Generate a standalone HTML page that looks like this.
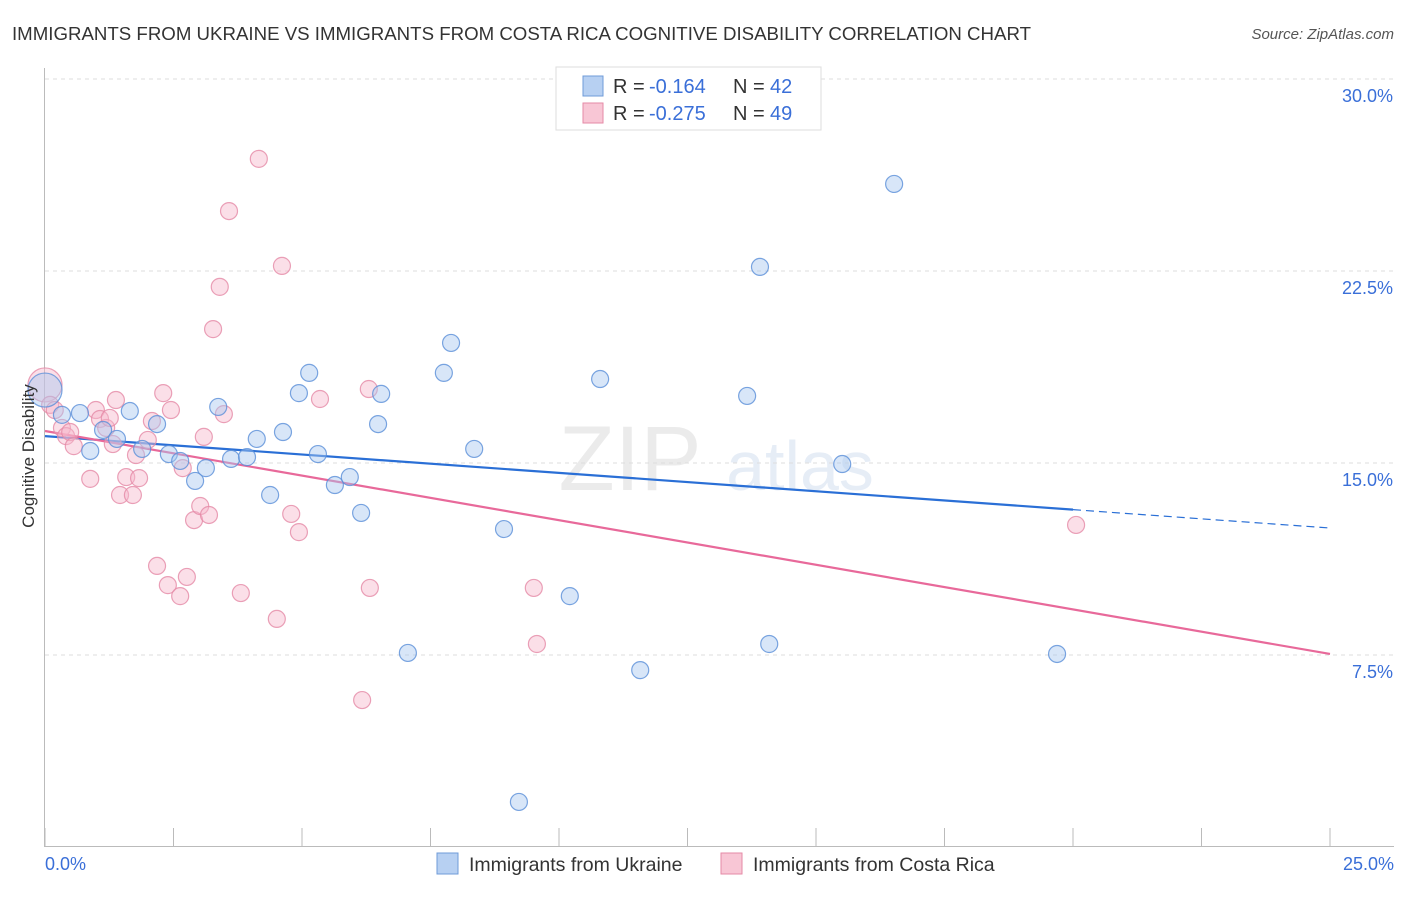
<!DOCTYPE html>
<html><head><meta charset="utf-8"><style>
body{margin:0;background:#fff;font-family:"Liberation Sans",sans-serif;}
svg text{font-family:"Liberation Sans",sans-serif;}
</style></head><body>
<svg id="chart" width="1406" height="892">
<text x="12" y="40" font-size="18.5" fill="#333" textLength="1019" lengthAdjust="spacingAndGlyphs">IMMIGRANTS FROM UKRAINE VS IMMIGRANTS FROM COSTA RICA COGNITIVE DISABILITY CORRELATION CHART</text>
<text x="1394" y="39" font-size="15" fill="#555" font-style="italic" text-anchor="end">Source: ZipAtlas.com</text>
<g opacity="0.35">
<text x="630" y="490" font-size="92" fill="#c8c8c8" font-family="Liberation Serif" text-anchor="middle">ZIP</text>
<text x="800" y="490" font-size="70" fill="#b8cce8" text-anchor="middle">atlas</text>
</g>
<g id="grid"></g><g id="axes"></g><g id="lines"></g><g id="points"></g>
<text transform="translate(34,456) rotate(-90)" font-size="17" fill="#333" text-anchor="middle">Cognitive Disability</text>
<g>
<rect x="556" y="67" width="265" height="63" fill="#fff" stroke="#ddd"/>
<rect x="583" y="76" width="20" height="20" fill="#b7d0f2" stroke="#6f9bd8"/>
<text x="613" y="93" font-size="20" fill="#333">R =</text>
<text x="649" y="93" font-size="20" fill="#3a6fd8">-0.164</text>
<text x="733" y="93" font-size="20" fill="#333">N =</text>
<text x="770" y="93" font-size="20" fill="#3a6fd8">42</text>
<rect x="583" y="103" width="20" height="20" fill="#f8c6d5" stroke="#e58aa6"/>
<text x="613" y="120" font-size="20" fill="#333">R =</text>
<text x="649" y="120" font-size="20" fill="#3a6fd8">-0.275</text>
<text x="733" y="120" font-size="20" fill="#333">N =</text>
<text x="770" y="120" font-size="20" fill="#3a6fd8">49</text>
</g>
<g>
<rect x="437" y="853" width="21" height="21" fill="#b7d0f2" stroke="#6f9bd8"/>
<text x="469" y="871" font-size="19.5" fill="#333">Immigrants from Ukraine</text>
<rect x="721" y="853" width="21" height="21" fill="#f8c6d5" stroke="#e58aa6"/>
<text x="753" y="871" font-size="19.5" fill="#333">Immigrants from Costa Rica</text>
</g>
</svg>
<script>
const ukraineX=[0,0.33,0.68,0.88,1.13,1.40,1.65,1.89,2.18,2.41,2.63,2.92,3.13,3.37,3.62,3.93,4.12,4.38,4.63,4.94,5.14,5.31,5.64,5.93,6.15,6.48,6.54,7.06,7.76,7.90,8.35,8.93,9.22,10.21,10.80,11.58,13.66,13.91,14.09,15.51,16.52,19.69];
const ukraineY=[17.85,16.88,16.95,15.47,16.29,15.94,17.03,15.55,16.52,15.35,15.08,14.30,14.80,17.19,15.16,15.23,15.94,13.75,16.21,17.73,18.52,15.35,14.14,14.45,13.05,16.52,17.70,7.58,18.52,19.69,15.55,12.42,1.76,9.80,18.28,6.91,17.62,22.66,7.93,14.96,25.90,7.54];
const costaX=[0,0.10,0.19,0.33,0.41,0.49,0.56,0.88,0.99,1.07,1.19,1.26,1.32,1.38,1.46,1.58,1.71,1.77,1.83,2.00,2.08,2.18,2.30,2.39,2.45,2.63,2.68,2.76,2.90,3.02,3.09,3.19,3.27,3.40,3.48,3.58,3.81,4.16,4.51,4.61,4.79,4.94,5.35,6.17,6.30,6.32,9.51,9.57,20.06];
const costaY=[18.05,17.27,17.07,16.37,16.05,16.21,15.66,14.38,17.07,16.72,16.37,16.76,15.74,17.46,13.75,14.45,13.75,15.31,14.41,15.90,16.64,10.98,17.73,10.23,17.07,9.80,14.80,10.55,12.77,13.32,16.02,12.97,20.23,21.88,16.91,24.84,9.92,26.88,8.91,22.70,13.01,12.30,17.50,5.74,17.89,10.12,10.12,7.93,12.58];
const yTicks=[7.5,15,22.5,30];
const yTickLabels=["7.5%","15.0%","22.5%","30.0%"];
const xTicks=[0,2.5,5,7.5,10,12.5,15,17.5,20,22.5,25];
const ukraineTrend=[16.05,12.46];
const costaTrend=[16.25,7.54];
const ukraineSolidEnd=20;

const NS="http://www.w3.org/2000/svg";
const X=v=>45+v*(1285/25);
const Y=v=>847-v*(192/7.5);
function mk(tag,attrs,parent){const e=document.createElementNS(NS,tag);for(const k in attrs)e.setAttribute(k,attrs[k]);document.getElementById(parent).appendChild(e);return e;}

yTicks.forEach((t,i)=>{
 const l=mk('line',{x1:45,x2:1394,y1:Y(t),y2:Y(t),stroke:'#ddd','stroke-dasharray':'4 4'},'grid');
 
 
 const tx=mk('text',{x:1393,y:Y(t)+23,'font-size':18,fill:'#3a6fd8','text-anchor':'end'},'grid');
 tx.textContent=yTickLabels[i];
 
 
});
const ya=mk('line',{x1:44.5,x2:44.5,y1:68,y2:847,stroke:'#bbb'},'axes');


const xa=mk('line',{x1:45,x2:1394,y1:846.5,y2:846.5,stroke:'#bbb'},'axes');


xTicks.forEach(t=>{
 const l=mk('line',{x1:X(t),x2:X(t),y1:828,y2:847,stroke:'#bbb'},'axes');
 
 
});
const xl0=mk('text',{x:45,y:870,'font-size':18,fill:'#3a6fd8'},'axes');
xl0.textContent="0.0%";


const xl1=mk('text',{x:1394,y:870,'font-size':18,fill:'#3a6fd8','text-anchor':'end'},'axes');
xl1.textContent="25.0%";



function pts(xs,ys,fill,stroke,name){
 xs.forEach((x,i)=>{
  const r=(i===0)?17:8.5;
  const c=mk('circle',{cx:X(x),cy:Y(ys[i]),r:r,fill:fill,'fill-opacity':0.45,stroke:stroke,'stroke-width':1.2,'stroke-opacity':0.8},'points');
  
  
 });
}
pts(costaX,costaY,'#f6b8cb','#e58aa6','point-costa-rica');
pts(ukraineX,ukraineY,'#a9c8f0','#5a8ed8','point-ukraine');

const slope=(ukraineTrend[1]-ukraineTrend[0])/25;
const midY=ukraineTrend[0]+slope*ukraineSolidEnd;
const b1=mk('line',{x1:X(0),y1:Y(ukraineTrend[0]),x2:X(ukraineSolidEnd),y2:Y(midY),stroke:'#2a6fd6','stroke-width':2.2},'lines');


const b2=mk('line',{x1:X(ukraineSolidEnd),y1:Y(midY),x2:X(25),y2:Y(ukraineTrend[1]),stroke:'#2a6fd6','stroke-width':1.2,'stroke-dasharray':'8 5'},'lines');


const p1=mk('line',{x1:X(0),y1:Y(costaTrend[0]),x2:X(25),y2:Y(costaTrend[1]),stroke:'#e8699a','stroke-width':2.2},'lines');


</script>
</body></html>
